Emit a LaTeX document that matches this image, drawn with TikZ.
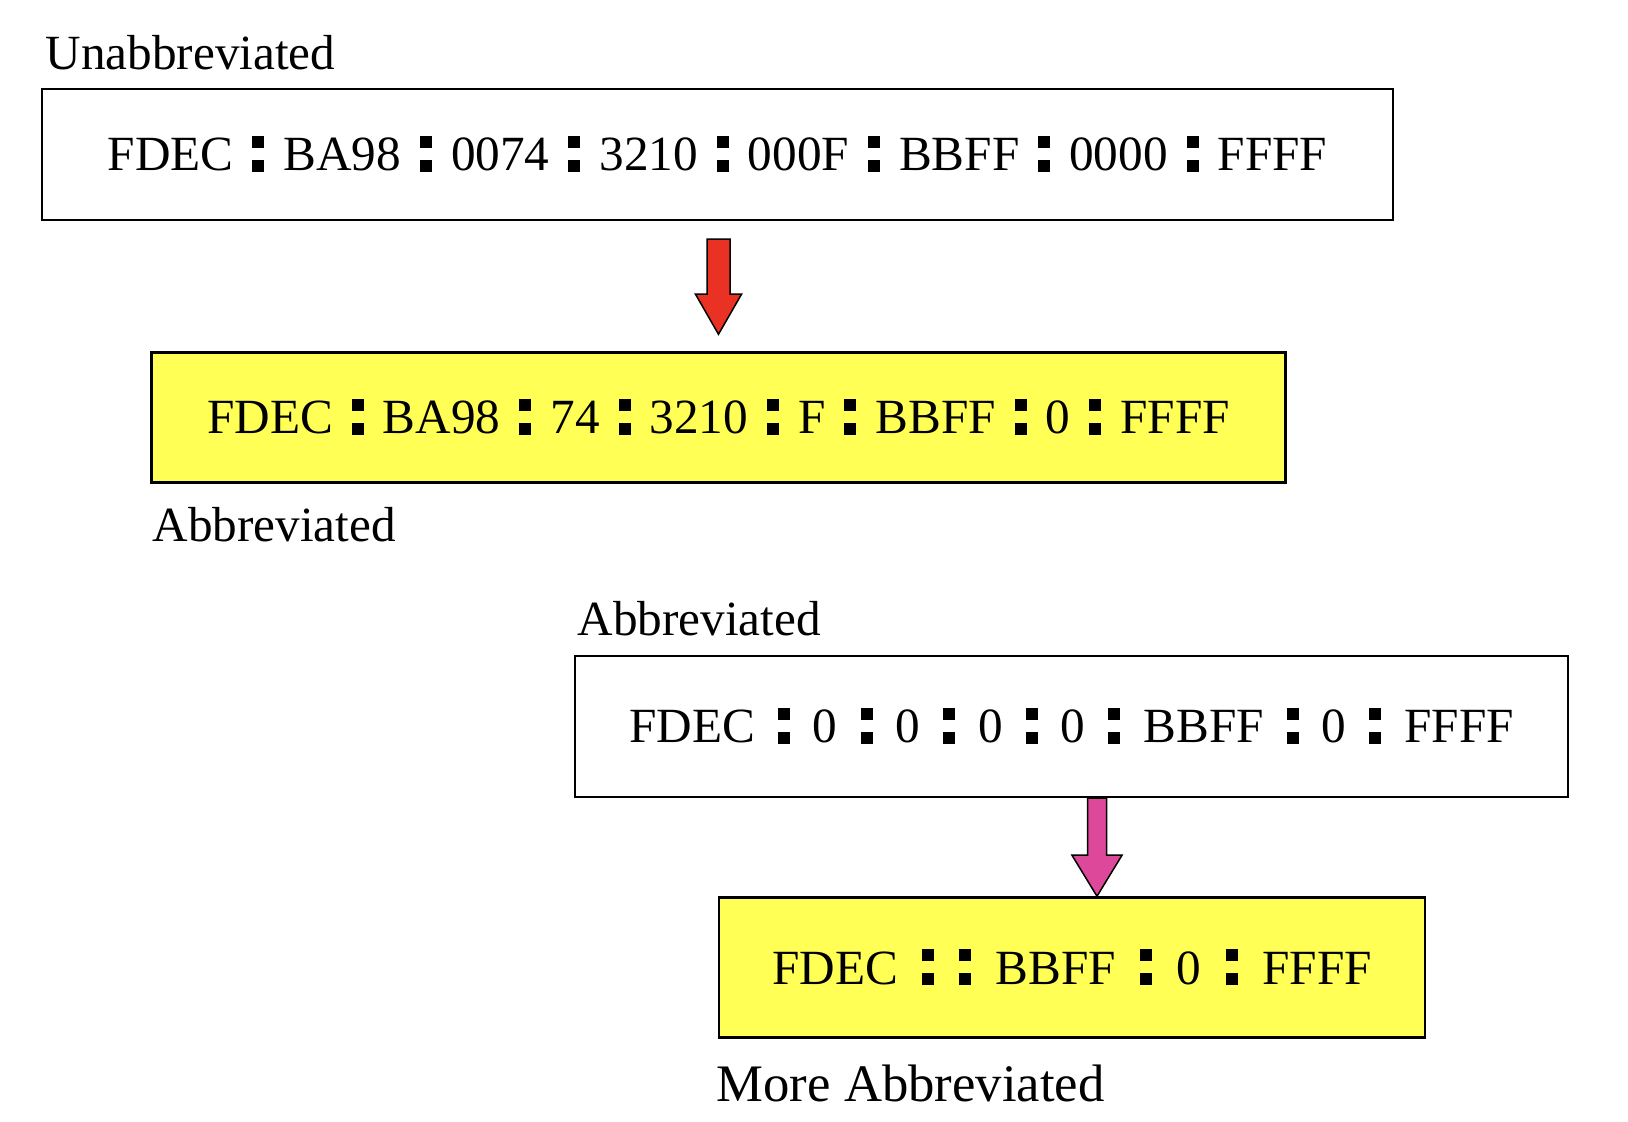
\documentclass[tikz,border=0pt]{standalone}
\usepackage{fontspec}
\setmainfont{Liberation Serif}
\usepackage{xcolor}
\usetikzlibrary{calc}

\definecolor{boxyellow}{RGB}{255,255,85}
\definecolor{arrowred}{RGB}{234,50,36}
\definecolor{arrowpink}{RGB}{222,72,155}

% bold square colon
\newlength{\colgap}
\setlength{\colgap}{2mm}
\newcommand{\sq}{\rule[-0.1mm]{1.2mm}{1.2mm}\llap{\rule[2.3mm]{1.2mm}{1.2mm}}}
\newcommand{\dcol}{\hspace{\colgap}\sq\hspace{\colgap}}

\tikzset{
  addrbox/.style={draw=black, line width=0.25mm, inner sep=0pt,
    font=\fontsize{14}{16}\selectfont, text height=3.3mm, text depth=0pt},
  plainbox/.style={addrbox, fill=white},
  shortbox/.style={addrbox, fill=boxyellow},
  caption/.style={anchor=base west, inner sep=0pt, font=\fontsize{14}{16}\selectfont},
  blockarrow/.style={draw=black, line width=0.15mm, line join=miter}
}

\begin{document}
\begin{tikzpicture}[x=0.1mm, y=-0.1mm]
    \useasboundingbox (0,0) rectangle (1628,1122);

    % first example
    \node[plainbox, minimum width=135.1mm, minimum height=13.1mm] (full) at (717.5,154.5)
        {\setlength{\colgap}{1.9mm}FDEC\dcol BA98\dcol 0074\dcol 3210\dcol 000F\dcol BBFF\dcol 0000\dcol FFFF};
    \node[caption] (fulllbl) at (45,70) {Unabbreviated};

    \node[shortbox, minimum width=113.4mm, minimum height=13.0mm] (abbr) at (718.5,417.5)
        {\setlength{\colgap}{1.9mm}FDEC\dcol BA98\dcol 74\dcol 3210\dcol F\dcol BBFF\dcol 0\dcol FFFF};
    \node[caption] (abbrlbl) at (152,542) {Abbreviated};

    \coordinate (r1) at ([yshift=-1.8mm]full.south -| abbr.south);
    \coordinate (r2) at ([yshift=1.7mm]abbr.north);
    \draw[blockarrow, fill=arrowred]
        ($(r1)+(-11.5,0)$) -- ($(r2)+(-11.5,-40)$) -- ($(r2)+(-23,-40)$) -- (r2)
        -- ($(r2)+(23,-40)$) -- ($(r2)+(11.5,-40)$) -- ($(r1)+(11.5,0)$) -- cycle;

    % second example
    \node[plainbox, minimum width=99.3mm, minimum height=14.1mm] (zeros) at (1071.5,726.5)
        {\setlength{\colgap}{2.3mm}FDEC\dcol 0\dcol 0\dcol 0\dcol 0\dcol BBFF\dcol 0\dcol FFFF};
    \node[caption] (zeroslbl) at (577,636) {Abbreviated};

    \node[shortbox, minimum width=70.6mm, minimum height=14.0mm] (more) at (1072,967.5)
        {\setlength{\colgap}{2.45mm}FDEC\hspace{\colgap}\sq\hspace{\colgap}\sq\hspace{\colgap}BBFF\dcol 0\dcol FFFF};
    \node[caption, font=\fontsize{15}{17}\selectfont] (morelbl) at (716,1102) {More Abbreviated};

    \coordinate (p1) at ([xshift=2.55mm]zeros.south);
    \coordinate (p2) at (p1 |- more.north);
    \draw[blockarrow, fill=arrowpink]
        ($(p1)+(-9.5,0)$) -- ($(p2)+(-9.5,-41)$) -- ($(p2)+(-25,-41)$) -- (p2)
        -- ($(p2)+(25,-41)$) -- ($(p2)+(9.5,-41)$) -- ($(p1)+(9.5,0)$) -- cycle;
\end{tikzpicture}
\end{document}
